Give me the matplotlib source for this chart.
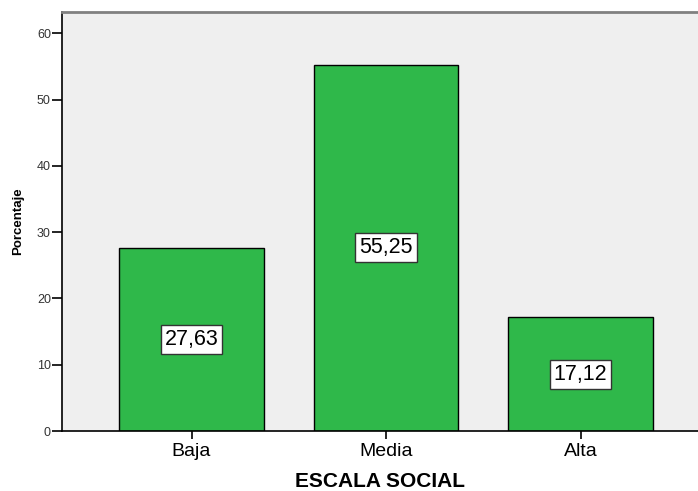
import matplotlib.pyplot as plt

plt.rcParams["font.family"] = ["Liberation Sans", "DejaVu Sans"]

# Datos
categorias = ["Baja", "Media", "Alta"]
porcentajes = [27.63, 55.25, 17.12]
etiquetas = ["27,63", "55,25", "17,12"]

fig = plt.figure(figsize=(6.98, 4.91), dpi=100)
ax = fig.add_axes([62 / 698, 1 - 431 / 491, 636 / 698, 419 / 491])
ax.set_facecolor("#efefef")

x = list(range(len(categorias)))
ax.bar(x, porcentajes, width=0.745, color="#2fb84a", edgecolor="black", linewidth=1, zorder=2)

for xi, v, t in zip(x, porcentajes, etiquetas):
    ax.text(xi, v / 2, t, ha="center", va="center", fontsize=15.5, zorder=3,
            bbox=dict(boxstyle="square,pad=0.18", facecolor="white", edgecolor="#333333", linewidth=1))

ax.set_xlim(-0.666, 2.604)
ax.set_ylim(0, 63.2)
ax.set_yticks(range(0, 61, 10))
ax.set_xticks(x)
ax.set_xticklabels(categorias, fontsize=14)
ax.tick_params(axis="y", labelsize=9, length=7, width=1.2, pad=1, labelcolor="#333333")
ax.tick_params(axis="x", length=6, width=1.2, pad=3)

ax.spines["right"].set_visible(False)
ax.spines["top"].set_color("#808080")
ax.spines["top"].set_linewidth(2)
ax.spines["left"].set_linewidth(1.2)
ax.spines["bottom"].set_linewidth(1.2)

ax.set_xlabel("ESCALA SOCIAL", fontsize=15, fontweight="bold", labelpad=8)
ax.set_ylabel("Porcentaje", fontsize=9.5, fontweight="bold", labelpad=9)

fig.savefig("out.png", dpi=100)
